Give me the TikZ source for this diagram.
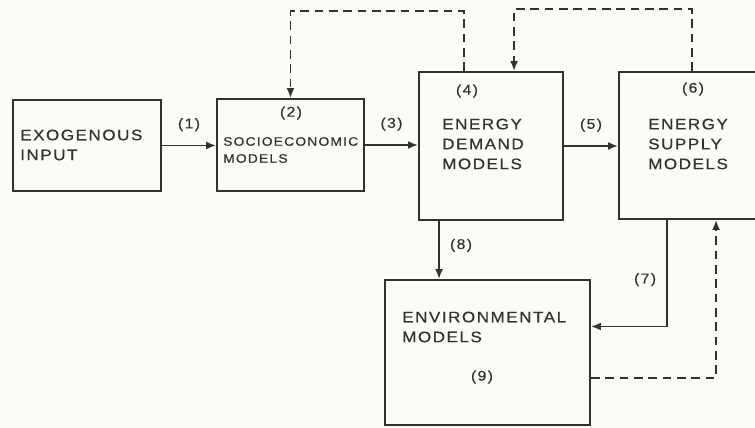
\documentclass[tikz,border=0pt]{standalone}
\usepackage{fontspec}
\setmainfont{Liberation Sans}[FakeStretch=1.12,LetterSpace=10,FakeBold=0.6]
\usetikzlibrary{arrows.meta,calc}
\definecolor{ink}{RGB}{50,50,50}
\definecolor{paper}{RGB}{251,251,247}

\tikzset{
  modelbox/.style={draw=ink,line width=1.6pt,inner sep=0pt},
  boxtext/.style={anchor=west,align=left,inner sep=0pt,text=ink,font=\fontsize{13}{17}\selectfont},
  smalltext/.style={boxtext,font=\fontsize{10.5}{14.5}\selectfont},
  tag/.style={inner sep=0pt,text=ink,font=\fontsize{12}{13}\selectfont},
  flow/.style={draw=ink,line width=1.6pt,-{Latex[length=3mm,width=2.4mm]}},
  feedback/.style={flow,dash pattern=on 2.6mm off 1.7mm}
}

\begin{document}
\begin{tikzpicture}[x=0.03cm,y=-0.03cm]
  \fill[paper] (0,0) rectangle (755,428);
  \useasboundingbox (0,0) rectangle (755,428);

  % model blocks
  \node[modelbox,minimum width=4.44cm,minimum height=2.73cm] (exo) at (87,145.5) {};
  \node[modelbox,minimum width=4.41cm,minimum height=2.76cm] (socio) at (290.5,145) {};
  \node[modelbox,minimum width=4.32cm,minimum height=4.44cm] (demand) at (491,146) {};
  \node[modelbox,minimum width=5.1cm,minimum height=4.41cm] (supply) at (704,145.5) {};
  \node[modelbox,minimum width=6.15cm,minimum height=4.35cm] (env) at (487.5,352.5) {};

  % block texts
  \node[boxtext] (exotext) at (20,145) {EXOGENOUS\\INPUT};
  \node[tag] (n2) at (291,113) {(2)};
  \node[smalltext] (sociotext) at (223,150) {SOCIOECONOMIC\\MODELS};
  \node[tag] (n4) at (467,91) {(4)};
  \node[boxtext] (demandtext) at (442,144) {ENERGY\\DEMAND\\MODELS};
  \node[tag] (n6) at (693,89) {(6)};
  \node[boxtext] (supplytext) at (648,144) {ENERGY\\SUPPLY\\MODELS};
  \node[boxtext] (envtext) at (402,327) {ENVIRONMENTAL\\MODELS};
  \node[tag] (n9) at (482,377) {(9)};

  % forward flows
  \draw[flow] (exo.east) -- node[tag,above=4mm] (n1) {(1)} (exo.east -| socio.west);
  \draw[flow] (socio.east) -- node[tag,above=4mm] (n3) {(3)} (socio.east -| demand.west);
  \draw[flow] (demand.east) -- node[tag,above=4mm] (n5) {(5)} (demand.east -| supply.west);
  \coordinate (d8) at ($(demand.south west)+(21,0)$);
  \draw[flow] (d8) -- node[tag,right=3mm,pos=0.42] (n8) {(8)} (d8 |- env.north);
  \draw[flow] ($(supply.south west)+(49,0)$) |- node[tag,left=3mm,pos=0.28] (n7) {(7)}
    ($(env.east)+(0,-26)$);

  % feedback loops
  \draw[feedback] ($(env.east)+(0,25.5)$) -| ($(supply.south west)+(98,0)$);
  \draw[feedback] ($(supply.north west)+(74,0)$) -- ++(0,-62) -| ($(demand.north west)+(96,0)$);
  \draw[feedback] ($(demand.north west)+(46,0)$) -- ++(0,-60) -| (socio.north);
\end{tikzpicture}
\end{document}
